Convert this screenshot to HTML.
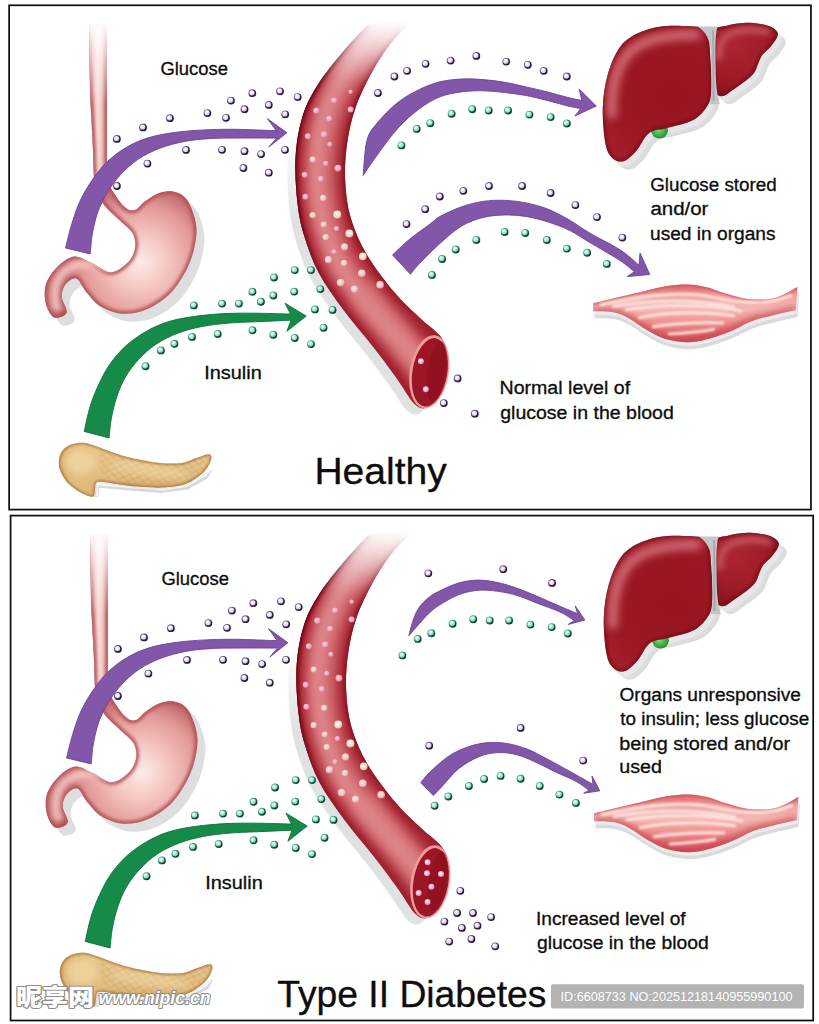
<!DOCTYPE html>
<html lang="en">
<head>
<meta charset="utf-8">
<title>Healthy vs Type II Diabetes</title>
<style>
html,body{margin:0;padding:0;background:#fff;}
body{width:819px;height:1024px;overflow:hidden;font-family:"Liberation Sans","Noto Sans CJK SC",sans-serif;}
svg{display:block;}
text{font-family:"Liberation Sans","Noto Sans CJK SC",sans-serif;fill:#0d0d0d;}
.lbl{font-size:19.2px;stroke:#0d0d0d;stroke-width:0.32px;}
.ttl{font-size:36px;stroke:#0d0d0d;stroke-width:0.3px;}
</style>
</head>
<body>
<svg width="819" height="1024" viewBox="0 0 819 1024">
<defs>
  <radialGradient id="gGlu" cx="0.38" cy="0.36" r="0.75">
    <stop offset="0" stop-color="#ffffff"/><stop offset="0.45" stop-color="#f1e4f5"/><stop offset="1" stop-color="#d3b4e0"/>
  </radialGradient>
  <radialGradient id="gIns" cx="0.38" cy="0.36" r="0.75">
    <stop offset="0" stop-color="#f4fffb"/><stop offset="0.4" stop-color="#b4f0dc"/><stop offset="1" stop-color="#62c9a3"/>
  </radialGradient>
  <radialGradient id="gOpen" cx="0.42" cy="0.4" r="0.6">
    <stop offset="0" stop-color="#fff"/><stop offset="0.6" stop-color="#efb6d2"/><stop offset="1" stop-color="#d98ab4"/>
  </radialGradient>
  <radialGradient id="gPartP" cx="0.4" cy="0.38" r="0.7">
    <stop offset="0" stop-color="#ffd3df"/><stop offset="0.6" stop-color="#f3a3b9"/><stop offset="1" stop-color="#d9728e"/>
  </radialGradient>
  <radialGradient id="gPartW" cx="0.4" cy="0.38" r="0.7">
    <stop offset="0" stop-color="#fbe9e4"/><stop offset="0.6" stop-color="#ecc6c2"/><stop offset="1" stop-color="#d89a9c"/>
  </radialGradient>
  <radialGradient id="gPartC" cx="0.4" cy="0.38" r="0.7">
    <stop offset="0" stop-color="#fff6ea"/><stop offset="0.6" stop-color="#f0dccb"/><stop offset="1" stop-color="#d9a99a"/>
  </radialGradient>
  <linearGradient id="gGluRing" x1="0.15" y1="0.15" x2="0.85" y2="0.85">
    <stop offset="0" stop-color="#7a6b93"/><stop offset="0.5" stop-color="#3d2e59"/><stop offset="1" stop-color="#1c1233"/>
  </linearGradient>
  <linearGradient id="gInsRing" x1="0.15" y1="0.15" x2="0.85" y2="0.85">
    <stop offset="0" stop-color="#5fae94"/><stop offset="0.5" stop-color="#1f6e55"/><stop offset="1" stop-color="#093426"/>
  </linearGradient>
  <g id="glu"><circle r="3.9" fill="url(#gGluRing)"/><circle cx="-0.35" cy="-0.4" r="2.6" fill="url(#gGlu)"/></g>
  <g id="ins"><circle r="3.95" fill="url(#gInsRing)"/><circle cx="-0.35" cy="-0.4" r="2.75" fill="url(#gIns)"/></g>
  <g id="opn"><circle r="3" fill="url(#gOpen)"/></g>

  <linearGradient id="gEso" x1="0" y1="0" x2="1" y2="0">
    <stop offset="0" stop-color="#d9928f"/><stop offset="0.5" stop-color="#f8dcd6"/><stop offset="1" stop-color="#dc9a96"/>
  </linearGradient>
  <radialGradient id="gStomach" gradientUnits="userSpaceOnUse" cx="140" cy="262" r="75">
    <stop offset="0" stop-color="#fdebe7"/><stop offset="0.35" stop-color="#f5c8c3"/><stop offset="0.75" stop-color="#e39a98"/><stop offset="1" stop-color="#c66d71"/>
  </radialGradient>
  <linearGradient id="gFadeTop" gradientUnits="userSpaceOnUse" x1="0" y1="22" x2="0" y2="105">
    <stop offset="0" stop-color="#fff" stop-opacity="1"/><stop offset="1" stop-color="#fff" stop-opacity="0"/>
  </linearGradient>
  <linearGradient id="gVesFade" gradientUnits="userSpaceOnUse" x1="395" y1="18" x2="345" y2="95">
    <stop offset="0" stop-color="#fff" stop-opacity="1"/><stop offset="0.15" stop-color="#fff" stop-opacity="0.85"/><stop offset="1" stop-color="#fff" stop-opacity="0"/>
  </linearGradient>
  <linearGradient id="gShadowFade" gradientUnits="userSpaceOnUse" x1="0" y1="125" x2="0" y2="215">
    <stop offset="0" stop-color="#e2e2e2" stop-opacity="0"/><stop offset="1" stop-color="#e0e1e1" stop-opacity="1"/>
  </linearGradient>
  <radialGradient id="gLiver" gradientUnits="userSpaceOnUse" cx="672" cy="95" r="105">
    <stop offset="0" stop-color="#95141f"/><stop offset="0.55" stop-color="#9b1925"/><stop offset="1" stop-color="#a8242f"/>
  </radialGradient>
  <radialGradient id="gLiverR" gradientUnits="userSpaceOnUse" cx="735" cy="45" r="50">
    <stop offset="0" stop-color="#ab2531"/><stop offset="0.6" stop-color="#a01c29"/><stop offset="1" stop-color="#8c1420"/>
  </radialGradient>
  <radialGradient id="gGall" cx="0.45" cy="0.45" r="0.6">
    <stop offset="0" stop-color="#7fe07a"/><stop offset="1" stop-color="#1c8a2c"/>
  </radialGradient>
  <linearGradient id="gMuscle" gradientUnits="userSpaceOnUse" x1="0" y1="284" x2="0" y2="344">
    <stop offset="0" stop-color="#dc5c63"/><stop offset="0.2" stop-color="#f1a19e"/><stop offset="0.42" stop-color="#f5b7b3"/><stop offset="0.62" stop-color="#ee9491"/><stop offset="0.82" stop-color="#e0696e"/><stop offset="1" stop-color="#cf4f59"/>
  </linearGradient>
  <linearGradient id="gPanc" gradientUnits="userSpaceOnUse" x1="0" y1="442" x2="0" y2="495">
    <stop offset="0" stop-color="#ebcb92"/><stop offset="0.6" stop-color="#e3bf84"/><stop offset="1" stop-color="#d3a869"/>
  </linearGradient>
  <linearGradient id="gPancHead" gradientUnits="userSpaceOnUse" x1="50" y1="0" x2="120" y2="0">
    <stop offset="0" stop-color="#c9985a" stop-opacity="0.75"/><stop offset="0.35" stop-color="#e3bf84" stop-opacity="0.8"/><stop offset="1" stop-color="#e3bf84" stop-opacity="0"/>
  </linearGradient>
  <pattern id="pHatch" width="10" height="7" patternUnits="userSpaceOnUse" patternTransform="rotate(12)">
    <path d="M0 0L10 7M10 0L0 7" stroke="#b98d52" stroke-width="0.7" fill="none" opacity="0.6"/>
  </pattern>
  <filter id="fBlur3" x="-20%" y="-20%" width="140%" height="140%"><feGaussianBlur stdDeviation="3"/></filter>
  <filter id="fBlur6" x="-20%" y="-20%" width="140%" height="140%"><feGaussianBlur stdDeviation="6"/></filter>
  <filter id="fBlur1" x="-20%" y="-20%" width="140%" height="140%"><feGaussianBlur stdDeviation="0.8"/></filter>
  <filter id="fBlur2" x="-20%" y="-20%" width="140%" height="140%"><feGaussianBlur stdDeviation="1.6"/></filter>
  <filter id="fBlur12" x="-20%" y="-50%" width="140%" height="200%"><feGaussianBlur stdDeviation="1.2"/></filter>
  <filter id="fBlur4" x="-30%" y="-30%" width="160%" height="160%"><feGaussianBlur stdDeviation="4"/></filter>
  <filter id="fBlur05" x="-20%" y="-20%" width="140%" height="140%"><feGaussianBlur stdDeviation="0.45"/></filter>
  <linearGradient id="gVesMask" gradientUnits="userSpaceOnUse" x1="385" y1="19" x2="372" y2="98">
    <stop offset="0" stop-color="#000"/><stop offset="0.1" stop-color="#141414"/><stop offset="0.3" stop-color="#4a4a4a"/><stop offset="0.6" stop-color="#a8a8a8"/><stop offset="0.85" stop-color="#ececec"/><stop offset="1" stop-color="#fff"/>
  </linearGradient>
  <mask id="mVessel" maskUnits="userSpaceOnUse" x="280" y="0" width="190" height="430">
    <rect x="280" y="0" width="190" height="430" fill="#fff"/>
    <rect x="300" y="0" width="150" height="110" fill="url(#gVesMask)"/>
  </mask>
  <linearGradient id="gVEdgeO" gradientUnits="userSpaceOnUse" x1="0" y1="220" x2="0" y2="350">
    <stop offset="0" stop-color="#7a0e1c" stop-opacity="1"/><stop offset="1" stop-color="#8e1a28" stop-opacity="0.3"/>
  </linearGradient>
  <linearGradient id="gVEdgeO2" gradientUnits="userSpaceOnUse" x1="0" y1="200" x2="0" y2="320">
    <stop offset="0" stop-color="#5d0813" stop-opacity="0.8"/><stop offset="1" stop-color="#8e1a28" stop-opacity="0"/>
  </linearGradient>
  <linearGradient id="gVEdgeI" gradientUnits="userSpaceOnUse" x1="0" y1="220" x2="0" y2="340">
    <stop offset="0" stop-color="#8a1422" stop-opacity="1"/><stop offset="1" stop-color="#951c2a" stop-opacity="0.55"/>
  </linearGradient>
  <clipPath id="cVessel"><path d="M367.7 24.7C363.6 29.2 351.4 41.7 343.3 51.5C335.2 61.3 325.5 72.7 318.8 83.3C312.1 93.9 306.9 102.8 303 115C299.1 127.2 296.5 141.8 295.6 156.5C294.7 171.2 296 189.7 297.5 203C299 216.3 300.8 224.9 304.4 236.6C308 248.3 312.5 261.1 319 273.3C325.5 285.5 334.5 297.8 343.5 310C352.5 322.2 364.2 335.5 372.8 346.5C381.4 357.5 388.7 367.2 394.8 375.8C400.9 384.4 407 394.1 409.4 397.8C416 408 424 412 430 405C444 392 452 362 446 346.5C444.8 344.5 443.2 339.2 438.7 334.3C434.2 329.4 426.5 324.1 419.2 317.2C411.9 310.3 403.6 303.3 394.8 292.8C386 282.3 373.9 266.7 366.5 254.2C359.1 241.7 354.2 229.8 350.6 217.6C347.1 205.4 345.8 193.2 345.2 181C344.6 168.8 345.3 156.5 347 144.3C348.7 132.1 351.2 119.9 355.5 107.7C359.8 95.5 366.5 82 372.6 71C378.7 60 385.3 50 392 41.7C398.7 33.4 409.4 24.4 412.9 21Z"/></clipPath>
  <clipPath id="cStomach"><path d="M107 24L107 150C107.1 154.7 106.5 171.1 107.5 178C108.5 184.9 110 186.8 113 191.7C116 196.6 121.5 204.5 125.2 207.6C128.9 210.7 131.7 211 135 210C138.3 209 140.7 204.3 144.8 201.5C148.9 198.7 154.5 194.6 159.4 193C164.3 191.4 169.5 190.7 174 191.7C178.5 192.7 182.8 194.5 186.3 199C189.8 203.5 193.2 212.1 194.8 218.6C196.4 225.1 197 230.3 196 238C195 245.7 192.8 256 188.7 265C184.6 274 178.5 284.6 171.6 291.9C164.7 299.2 155.3 305.4 147.2 309C139.1 312.6 130.5 314.2 122.8 313.8C115.1 313.4 106.9 310.1 100.8 306.5C94.7 302.9 90.3 296.6 86.2 291.9C82.1 287.2 79.9 279.6 76.4 278.4C72.9 277.2 67.9 281.4 65.4 284.5C63 287.6 61.5 292.1 61.7 296.8C61.9 301.5 67.8 309.2 66.6 312.6C65.4 316.1 57.8 318.9 54.4 317.5C51 316.1 47.3 309.5 45.9 304C44.5 298.5 44.1 290.6 45.9 284.5C47.7 278.4 52.2 272.1 56.9 267.4C61.6 262.7 68.3 257.3 74 256.5C79.7 255.7 84.9 260 91 262.6C97.1 265.2 104.5 272.3 110.6 272.3C116.7 272.3 123.6 266.7 127.7 262.6C131.8 258.6 134.2 252.9 135 248C135.8 243.1 135 237.8 132.6 233.3C130.2 228.8 125.3 225.9 120.4 221C115.5 216.1 107.5 210 103.3 204C99.1 198 96.7 194 95 185C93.3 176 93.3 155.8 93 150L90 93L89 24Z"/></clipPath>
  <clipPath id="cLiverL"><path d="M702.8 27.4C696 26.2 677.1 25.2 666.9 25.9C656.6 26.6 649 28.5 641.3 31.8C633.6 35.1 626.4 38.9 620.8 45.9C615.2 52.9 610.9 63.8 607.9 74.1C604.9 84.3 603.2 95.9 602.8 107.4C602.4 118.9 603.9 135 605.4 143.3C606.9 151.6 608.8 154.4 611.8 157.4C614.8 160.4 619.2 162.4 623.3 161.3C627.4 160.2 631.9 155.7 636.2 151C640.5 146.3 643.9 136.8 649 133C654.1 129.2 659.6 130.1 666.9 128C674.2 125.9 685.8 124.1 692.6 120.3C699.4 116.5 704.7 110.5 707.9 104.9C711.1 99.3 711.3 96.3 711.6 86.9C711.9 77.5 710.3 57.5 709.7 48.5C709.1 39.5 708.9 36.6 707.8 33.1C706.6 29.6 709.6 28.6 702.8 27.4Z"/></clipPath>
  <clipPath id="cLiverR"><path d="M713.7 30.4C716.1 26.6 722.5 26.6 727.5 25.4C732.5 24.1 738.5 23.1 744 22.9C749.5 22.7 755.8 23.3 760.4 24C765 24.7 768.5 25.7 771.4 27.1C774.2 28.5 776.7 30.7 777.5 32.6C778.3 34.5 777.6 36.2 776.4 38.6C775.2 41 772.6 44.2 770.3 46.9C768 49.6 764.6 51.9 762.6 54.6C760.6 57.4 759.7 60.3 758.2 63.4C756.7 66.5 756.2 70.1 753.8 73.2C751.4 76.3 747.5 79.2 744 82C740.5 84.8 736.3 87.4 733 89.7C729.7 92 726.7 94.9 724.2 95.8C721.7 96.7 719.7 96.2 718.1 95.2C716.5 94.2 715.6 93.9 714.8 89.7C714 85.5 713.7 77 713.4 70C713.1 63 713 54.6 713 48C713 41.4 711.3 34.2 713.7 30.4Z"/></clipPath>
  <clipPath id="cMuscle"><path d="M593 303.2C596.1 302.4 604.3 300.5 611.9 298.7C619.5 296.9 629.8 294.6 638.8 292.5C647.8 290.4 657.5 287.7 665.6 286.3C673.7 284.9 680.5 284.3 687.2 284.4C693.9 284.5 699.7 285.6 706 287.1C712.3 288.6 718.1 291.4 724.8 293.3C731.5 295.2 739.1 297.7 746.3 298.7C753.5 299.7 761.5 299.9 767.8 299.2C774.1 298.5 779 296.4 783.9 294.4C788.8 292.4 795.1 288.3 797.4 287.1L796 310C792.2 310.9 780.6 313.4 773.2 315.3C765.8 317.2 758.9 318.5 751.7 321.2C744.5 323.9 737.8 328.4 730.2 331.5C722.6 334.6 713.2 337.7 706 339.5C698.8 341.3 693.9 342.3 687.2 342.2C680.5 342.1 672.3 341 665.6 339C658.9 337 652.6 333.4 646.8 330.1C641 326.8 636.1 322.3 630.7 319.4C625.3 316.5 620.9 314 614.6 312.6C608.3 311.2 596.6 311.5 593 311.3Z"/></clipPath>
  <clipPath id="cPanc"><path d="M59.2 458.6C59.8 455.3 61.1 452.2 63.2 449.8C65.3 447.4 68.7 445.5 72 444.3C75.3 443.1 79.3 442.5 83 442.7C86.7 442.9 89.2 443.8 94 445.4C98.8 446.9 104.9 449.8 111.5 452C118.1 454.2 125.4 456.8 133.5 458.6C141.6 460.4 151.8 462.3 159.9 463C168 463.7 176.1 463.7 181.9 463C187.8 462.3 190.6 460.1 195 458.6C199.4 457.1 205.4 454.4 208.2 454.2C210.9 454 211.5 455.5 211.5 457.5C211.5 459.5 209.8 463.6 208.2 466.3C206.5 469.1 205.2 471.1 201.6 474C197.9 476.9 192.5 481.5 186.3 483.8C180.1 486.1 172.4 487.1 164.3 487.6C156.2 488.1 146 487.2 137.9 486.6C129.8 486 122.6 484.7 115.9 483.9C109.2 483.1 101.5 481.1 98 481.8C94.5 482.5 95.9 485.7 95.2 488C94.5 490.3 94.8 494.1 94 495.5C93.2 496.9 92.9 497.1 90.7 496.6C88.5 496.1 84.7 494.9 80.8 492.6C76.9 490.3 71.1 486.5 67.6 482.7C64.1 478.9 61.3 473.6 59.9 469.6C58.5 465.6 58.7 461.9 59.2 458.6Z"/></clipPath>

  <!-- ================= shared artwork (top-panel coordinates) ================= -->
  <g id="shared">
    <!-- stomach shadow -->
    <path d="M107 24L107 150C107.1 154.7 106.5 171.1 107.5 178C108.5 184.9 110 186.8 113 191.7C116 196.6 121.5 204.5 125.2 207.6C128.9 210.7 131.7 211 135 210C138.3 209 140.7 204.3 144.8 201.5C148.9 198.7 154.5 194.6 159.4 193C164.3 191.4 169.5 190.7 174 191.7C178.5 192.7 182.8 194.5 186.3 199C189.8 203.5 193.2 212.1 194.8 218.6C196.4 225.1 197 230.3 196 238C195 245.7 192.8 256 188.7 265C184.6 274 178.5 284.6 171.6 291.9C164.7 299.2 155.3 305.4 147.2 309C139.1 312.6 130.5 314.2 122.8 313.8C115.1 313.4 106.9 310.1 100.8 306.5C94.7 302.9 90.3 296.6 86.2 291.9C82.1 287.2 79.9 279.6 76.4 278.4C72.9 277.2 67.9 281.4 65.4 284.5C63 287.6 61.5 292.1 61.7 296.8C61.9 301.5 67.8 309.2 66.6 312.6C65.4 316.1 57.8 318.9 54.4 317.5C51 316.1 47.3 309.5 45.9 304C44.5 298.5 44.1 290.6 45.9 284.5C47.7 278.4 52.2 272.1 56.9 267.4C61.6 262.7 68.3 257.3 74 256.5C79.7 255.7 84.9 260 91 262.6C97.1 265.2 104.5 272.3 110.6 272.3C116.7 272.3 123.6 266.7 127.7 262.6C131.8 258.6 134.2 252.9 135 248C135.8 243.1 135 237.8 132.6 233.3C130.2 228.8 125.3 225.9 120.4 221C115.5 216.1 107.5 210 103.3 204C99.1 198 96.7 194 95 185C93.3 176 93.3 155.8 93 150L90 93L89 24Z" transform="translate(8,8)" fill="#dedede"/>
    <rect x="80" y="20" width="60" height="185" fill="#fff"/>
    <!-- stomach + esophagus -->
    <path d="M107 24L107 150C107.1 154.7 106.5 171.1 107.5 178C108.5 184.9 110 186.8 113 191.7C116 196.6 121.5 204.5 125.2 207.6C128.9 210.7 131.7 211 135 210C138.3 209 140.7 204.3 144.8 201.5C148.9 198.7 154.5 194.6 159.4 193C164.3 191.4 169.5 190.7 174 191.7C178.5 192.7 182.8 194.5 186.3 199C189.8 203.5 193.2 212.1 194.8 218.6C196.4 225.1 197 230.3 196 238C195 245.7 192.8 256 188.7 265C184.6 274 178.5 284.6 171.6 291.9C164.7 299.2 155.3 305.4 147.2 309C139.1 312.6 130.5 314.2 122.8 313.8C115.1 313.4 106.9 310.1 100.8 306.5C94.7 302.9 90.3 296.6 86.2 291.9C82.1 287.2 79.9 279.6 76.4 278.4C72.9 277.2 67.9 281.4 65.4 284.5C63 287.6 61.5 292.1 61.7 296.8C61.9 301.5 67.8 309.2 66.6 312.6C65.4 316.1 57.8 318.9 54.4 317.5C51 316.1 47.3 309.5 45.9 304C44.5 298.5 44.1 290.6 45.9 284.5C47.7 278.4 52.2 272.1 56.9 267.4C61.6 262.7 68.3 257.3 74 256.5C79.7 255.7 84.9 260 91 262.6C97.1 265.2 104.5 272.3 110.6 272.3C116.7 272.3 123.6 266.7 127.7 262.6C131.8 258.6 134.2 252.9 135 248C135.8 243.1 135 237.8 132.6 233.3C130.2 228.8 125.3 225.9 120.4 221C115.5 216.1 107.5 210 103.3 204C99.1 198 96.7 194 95 185C93.3 176 93.3 155.8 93 150L90 93L89 24Z" fill="url(#gStomach)"/>
    <g clip-path="url(#cStomach)">
      <rect x="86" y="20" width="24" height="165" fill="url(#gEso)"/>
      <path d="M107 24L107 150C107.1 154.7 106.5 171.1 107.5 178C108.5 184.9 110 186.8 113 191.7C116 196.6 121.5 204.5 125.2 207.6C128.9 210.7 131.7 211 135 210C138.3 209 140.7 204.3 144.8 201.5C148.9 198.7 154.5 194.6 159.4 193C164.3 191.4 169.5 190.7 174 191.7C178.5 192.7 182.8 194.5 186.3 199C189.8 203.5 193.2 212.1 194.8 218.6C196.4 225.1 197 230.3 196 238C195 245.7 192.8 256 188.7 265C184.6 274 178.5 284.6 171.6 291.9C164.7 299.2 155.3 305.4 147.2 309C139.1 312.6 130.5 314.2 122.8 313.8C115.1 313.4 106.9 310.1 100.8 306.5C94.7 302.9 90.3 296.6 86.2 291.9C82.1 287.2 79.9 279.6 76.4 278.4C72.9 277.2 67.9 281.4 65.4 284.5C63 287.6 61.5 292.1 61.7 296.8C61.9 301.5 67.8 309.2 66.6 312.6C65.4 316.1 57.8 318.9 54.4 317.5C51 316.1 47.3 309.5 45.9 304C44.5 298.5 44.1 290.6 45.9 284.5C47.7 278.4 52.2 272.1 56.9 267.4C61.6 262.7 68.3 257.3 74 256.5C79.7 255.7 84.9 260 91 262.6C97.1 265.2 104.5 272.3 110.6 272.3C116.7 272.3 123.6 266.7 127.7 262.6C131.8 258.6 134.2 252.9 135 248C135.8 243.1 135 237.8 132.6 233.3C130.2 228.8 125.3 225.9 120.4 221C115.5 216.1 107.5 210 103.3 204C99.1 198 96.7 194 95 185C93.3 176 93.3 155.8 93 150L90 93L89 24Z" fill="none" stroke="#b35158" stroke-width="6" filter="url(#fBlur2)" opacity="0.85"/>
      <ellipse cx="57" cy="314" rx="9" ry="5" fill="#ad3f49" opacity="0.7" filter="url(#fBlur2)"/>
      <path d="M112 268C95 262 78 262 66 270C54 279 52 296 58 312" fill="none" stroke="#f6cfc9" stroke-width="7" filter="url(#fBlur3)"/>
      <rect x="80" y="18" width="40" height="90" fill="url(#gFadeTop)"/>
    </g>
    <!-- pancreas -->
    <path d="M96.5 482L116 484.5L138 487.4L164.3 488.6L187 484.6L203 475L212.5 469L207.5 478.5L187 489.8L160.5 493L127 490.2L99.5 487.8L98 497L94 497Z" fill="#d6d8de"/>
    <path d="M97 482.5L116 485L138 487.9L164.3 489L187 485L203 475.5L211 470L206 476L187 486.8L164 490.6L127 487.8L98.6 485.6L97.6 496L96 496Z" fill="#f4f5f8"/>
    <path d="M59.2 458.6C59.8 455.3 61.1 452.2 63.2 449.8C65.3 447.4 68.7 445.5 72 444.3C75.3 443.1 79.3 442.5 83 442.7C86.7 442.9 89.2 443.8 94 445.4C98.8 446.9 104.9 449.8 111.5 452C118.1 454.2 125.4 456.8 133.5 458.6C141.6 460.4 151.8 462.3 159.9 463C168 463.7 176.1 463.7 181.9 463C187.8 462.3 190.6 460.1 195 458.6C199.4 457.1 205.4 454.4 208.2 454.2C210.9 454 211.5 455.5 211.5 457.5C211.5 459.5 209.8 463.6 208.2 466.3C206.5 469.1 205.2 471.1 201.6 474C197.9 476.9 192.5 481.5 186.3 483.8C180.1 486.1 172.4 487.1 164.3 487.6C156.2 488.1 146 487.2 137.9 486.6C129.8 486 122.6 484.7 115.9 483.9C109.2 483.1 101.5 481.1 98 481.8C94.5 482.5 95.9 485.7 95.2 488C94.5 490.3 94.8 494.1 94 495.5C93.2 496.9 92.9 497.1 90.7 496.6C88.5 496.1 84.7 494.9 80.8 492.6C76.9 490.3 71.1 486.5 67.6 482.7C64.1 478.9 61.3 473.6 59.9 469.6C58.5 465.6 58.7 461.9 59.2 458.6Z" fill="url(#gPanc)"/>
    <g clip-path="url(#cPanc)">
      <rect x="100" y="436" width="120" height="64" fill="url(#pHatch)"/>
      <rect x="50" y="436" width="70" height="64" fill="url(#gPancHead)"/>
      <ellipse cx="80" cy="462" rx="16" ry="12" fill="#f4dca8" opacity="0.6" filter="url(#fBlur3)"/>
      <ellipse cx="150" cy="470" rx="40" ry="7" fill="#f3dba9" opacity="0.5" filter="url(#fBlur3)" transform="rotate(8 150 470)"/>
      <path d="M59.2 458.6C59.8 455.3 61.1 452.2 63.2 449.8C65.3 447.4 68.7 445.5 72 444.3C75.3 443.1 79.3 442.5 83 442.7C86.7 442.9 89.2 443.8 94 445.4C98.8 446.9 104.9 449.8 111.5 452C118.1 454.2 125.4 456.8 133.5 458.6C141.6 460.4 151.8 462.3 159.9 463C168 463.7 176.1 463.7 181.9 463C187.8 462.3 190.6 460.1 195 458.6C199.4 457.1 205.4 454.4 208.2 454.2C210.9 454 211.5 455.5 211.5 457.5C211.5 459.5 209.8 463.6 208.2 466.3C206.5 469.1 205.2 471.1 201.6 474C197.9 476.9 192.5 481.5 186.3 483.8C180.1 486.1 172.4 487.1 164.3 487.6C156.2 488.1 146 487.2 137.9 486.6C129.8 486 122.6 484.7 115.9 483.9C109.2 483.1 101.5 481.1 98 481.8C94.5 482.5 95.9 485.7 95.2 488C94.5 490.3 94.8 494.1 94 495.5C93.2 496.9 92.9 497.1 90.7 496.6C88.5 496.1 84.7 494.9 80.8 492.6C76.9 490.3 71.1 486.5 67.6 482.7C64.1 478.9 61.3 473.6 59.9 469.6C58.5 465.6 58.7 461.9 59.2 458.6Z" fill="none" stroke="#a8763c" stroke-width="3" filter="url(#fBlur1)" opacity="0.85"/>
    </g>
    <!-- vessel shadow -->
    <path d="M367.7 24.7C363.6 29.2 351.4 41.7 343.3 51.5C335.2 61.3 325.5 72.7 318.8 83.3C312.1 93.9 306.9 102.8 303 115C299.1 127.2 296.5 141.8 295.6 156.5C294.7 171.2 296 189.7 297.5 203C299 216.3 300.8 224.9 304.4 236.6C308 248.3 312.5 261.1 319 273.3C325.5 285.5 334.5 297.8 343.5 310C352.5 322.2 364.2 335.5 372.8 346.5C381.4 357.5 388.7 367.2 394.8 375.8C400.9 384.4 407 394.1 409.4 397.8C416 408 424 412 430 405C444 392 452 362 446 346.5C444.8 344.5 443.2 339.2 438.7 334.3C434.2 329.4 426.5 324.1 419.2 317.2C411.9 310.3 403.6 303.3 394.8 292.8C386 282.3 373.9 266.7 366.5 254.2C359.1 241.7 354.2 229.8 350.6 217.6C347.1 205.4 345.8 193.2 345.2 181C344.6 168.8 345.3 156.5 347 144.3C348.7 132.1 351.2 119.9 355.5 107.7C359.8 95.5 366.5 82 372.6 71C378.7 60 385.3 50 392 41.7C398.7 33.4 409.4 24.4 412.9 21Z" transform="translate(-8,6)" fill="url(#gShadowFade)"/>
    <!-- vessel -->
    <g mask="url(#mVessel)">
      <path d="M367.7 24.7C363.6 29.2 351.4 41.7 343.3 51.5C335.2 61.3 325.5 72.7 318.8 83.3C312.1 93.9 306.9 102.8 303 115C299.1 127.2 296.5 141.8 295.6 156.5C294.7 171.2 296 189.7 297.5 203C299 216.3 300.8 224.9 304.4 236.6C308 248.3 312.5 261.1 319 273.3C325.5 285.5 334.5 297.8 343.5 310C352.5 322.2 364.2 335.5 372.8 346.5C381.4 357.5 388.7 367.2 394.8 375.8C400.9 384.4 407 394.1 409.4 397.8C416 408 424 412 430 405C444 392 452 362 446 346.5C444.8 344.5 443.2 339.2 438.7 334.3C434.2 329.4 426.5 324.1 419.2 317.2C411.9 310.3 403.6 303.3 394.8 292.8C386 282.3 373.9 266.7 366.5 254.2C359.1 241.7 354.2 229.8 350.6 217.6C347.1 205.4 345.8 193.2 345.2 181C344.6 168.8 345.3 156.5 347 144.3C348.7 132.1 351.2 119.9 355.5 107.7C359.8 95.5 366.5 82 372.6 71C378.7 60 385.3 50 392 41.7C398.7 33.4 409.4 24.4 412.9 21Z" fill="#a21f2e"/>
      <g clip-path="url(#cVessel)">
        <path d="M390 22C386.2 26.2 374.5 37.8 367 47C359.5 56.2 351.3 66.3 345 77C338.7 87.7 333 98.8 329 111C325 123.2 322.3 136.3 321 150C319.7 163.7 319.8 179.7 321 193C322.2 206.3 324.3 217.8 328 230C331.7 242.2 336.3 254.2 343 266C349.7 277.8 359.2 290 368 301C376.8 312 387.3 322.2 396 332C404.7 341.8 414.5 353.3 420 360C425.5 366.7 427.5 370 429 372" fill="none" stroke="#d0636b" stroke-width="32" filter="url(#fBlur6)"/>
        <path d="M390 22C386.2 26.2 374.5 37.8 367 47C359.5 56.2 351.3 66.3 345 77C338.7 87.7 333 98.8 329 111C325 123.2 322.3 136.3 321 150C319.7 163.7 319.8 179.7 321 193C322.2 206.3 324.3 217.8 328 230C331.7 242.2 336.3 254.2 343 266C349.7 277.8 359.2 290 368 301C376.8 312 387.3 322.2 396 332C404.7 341.8 414.5 353.3 420 360C425.5 366.7 427.5 370 429 372" fill="none" stroke="#e29396" stroke-width="11" filter="url(#fBlur6)" transform="translate(-3,0)"/>
        <path d="M367.7 24.7C363.6 29.2 351.4 41.7 343.3 51.5C335.2 61.3 325.5 72.7 318.8 83.3C312.1 93.9 306.9 102.8 303 115C299.1 127.2 296.5 141.8 295.6 156.5C294.7 171.2 296 189.7 297.5 203C299 216.3 300.8 224.9 304.4 236.6C308 248.3 312.5 261.1 319 273.3C325.5 285.5 334.5 297.8 343.5 310C352.5 322.2 364.2 335.5 372.8 346.5C381.4 357.5 388.7 367.2 394.8 375.8C400.9 384.4 407 394.1 409.4 397.8" fill="none" stroke="url(#gVEdgeO)" stroke-width="5" filter="url(#fBlur2)"/>
        <path d="M367.7 24.7C363.6 29.2 351.4 41.7 343.3 51.5C335.2 61.3 325.5 72.7 318.8 83.3C312.1 93.9 306.9 102.8 303 115C299.1 127.2 296.5 141.8 295.6 156.5C294.7 171.2 296 189.7 297.5 203C299 216.3 300.8 224.9 304.4 236.6C308 248.3 312.5 261.1 319 273.3C325.5 285.5 334.5 297.8 343.5 310C352.5 322.2 364.2 335.5 372.8 346.5C381.4 357.5 388.7 367.2 394.8 375.8C400.9 384.4 407 394.1 409.4 397.8" fill="none" stroke="url(#gVEdgeO2)" stroke-width="2"/>
        <path d="M412.9 21C409.4 24.4 398.7 33.4 392 41.7C385.3 50 378.7 60 372.6 71C366.5 82 359.8 95.5 355.5 107.7C351.2 119.9 348.7 132.1 347 144.3C345.3 156.5 344.6 168.8 345.2 181C345.8 193.2 347.1 205.4 350.6 217.6C354.2 229.8 359.1 241.7 366.5 254.2C373.9 266.7 386 282.3 394.8 292.8C403.6 303.3 411.9 310.3 419.2 317.2C426.5 324.1 434.2 329.4 438.7 334.3C443.2 339.2 444.8 344.5 446 346.5" fill="none" stroke="url(#gVEdgeI)" stroke-width="5" filter="url(#fBlur2)"/>
        <path d="M360 290C385 325 405 350 425 378" fill="none" stroke="#de8489" stroke-width="26" opacity="0.45" filter="url(#fBlur6)"/>
        <g filter="url(#fBlur05)">
<circle cx="350.6" cy="91.8" r="2.2" fill="url(#gPartP)"/>
<circle cx="334" cy="100.4" r="3" fill="url(#gPartP)"/>
<circle cx="350.6" cy="109.6" r="3" fill="url(#gPartP)"/>
<circle cx="316.4" cy="110.6" r="3.2" fill="url(#gPartP)"/>
<circle cx="329.1" cy="118.7" r="3" fill="url(#gPartP)"/>
<circle cx="307.9" cy="136.3" r="3" fill="url(#gPartP)"/>
<circle cx="324.2" cy="134.5" r="3.2" fill="url(#gPartP)"/>
<circle cx="329.8" cy="144.3" r="2.5" fill="url(#gPartP)"/>
<circle cx="312.7" cy="159.5" r="3" fill="url(#gPartW)"/>
<circle cx="325.7" cy="163.4" r="2.6" fill="url(#gPartP)"/>
<circle cx="337.9" cy="168.2" r="3.4" fill="url(#gPartP)"/>
<circle cx="304.7" cy="174.8" r="3" fill="url(#gPartP)"/>
<circle cx="320.8" cy="179" r="3" fill="url(#gPartP)"/>
<circle cx="305.4" cy="196.8" r="3" fill="url(#gPartP)"/>
<circle cx="323.2" cy="198" r="3.2" fill="url(#gPartW)"/>
<circle cx="312.7" cy="215.1" r="3.2" fill="url(#gPartW)"/>
<circle cx="337.2" cy="214.6" r="4" fill="url(#gPartC)"/>
<circle cx="323.7" cy="224.4" r="3" fill="url(#gPartW)"/>
<circle cx="336.4" cy="228.6" r="2.6" fill="url(#gPartP)"/>
<circle cx="349.4" cy="233.4" r="4" fill="url(#gPartC)"/>
<circle cx="325.7" cy="237.1" r="3.2" fill="url(#gPartW)"/>
<circle cx="344.5" cy="246.9" r="3.6" fill="url(#gPartW)"/>
<circle cx="334" cy="251.8" r="2.6" fill="url(#gPartP)"/>
<circle cx="362.8" cy="256.4" r="3.8" fill="url(#gPartC)"/>
<circle cx="328.4" cy="259.7" r="3.6" fill="url(#gPartW)"/>
<circle cx="344" cy="263" r="3.2" fill="url(#gPartW)"/>
<circle cx="361.8" cy="273.3" r="3.8" fill="url(#gPartW)"/>
<circle cx="340.6" cy="282.5" r="3.8" fill="url(#gPartW)"/>
<circle cx="354.5" cy="289.1" r="3.6" fill="url(#gPartW)"/>
<circle cx="380.1" cy="284.7" r="3.8" fill="url(#gPartW)"/>
        </g>
      </g>
    </g>
    <!-- vessel opening -->
    <g transform="translate(429.3 371.8) rotate(9.5)">
      <ellipse rx="19.5" ry="37" fill="#ef9a9c"/>
      <ellipse rx="17.4" ry="34.6" cx="0.6" cy="0.4" fill="#9b1626"/>
      <ellipse rx="9" ry="30" cx="7" cy="-2" fill="#8a0f1e" opacity="0.55"/>
    </g>
    <!-- liver -->
    <g transform="translate(8,8)" fill="#dcdcdc">
      <path d="M702.8 27.4C696 26.2 677.1 25.2 666.9 25.9C656.6 26.6 649 28.5 641.3 31.8C633.6 35.1 626.4 38.9 620.8 45.9C615.2 52.9 610.9 63.8 607.9 74.1C604.9 84.3 603.2 95.9 602.8 107.4C602.4 118.9 603.9 135 605.4 143.3C606.9 151.6 608.8 154.4 611.8 157.4C614.8 160.4 619.2 162.4 623.3 161.3C627.4 160.2 631.9 155.7 636.2 151C640.5 146.3 643.9 136.8 649 133C654.1 129.2 659.6 130.1 666.9 128C674.2 125.9 685.8 124.1 692.6 120.3C699.4 116.5 704.7 110.5 707.9 104.9C711.1 99.3 711.3 96.3 711.6 86.9C711.9 77.5 710.3 57.5 709.7 48.5C709.1 39.5 708.9 36.6 707.8 33.1C706.6 29.6 709.6 28.6 702.8 27.4Z"/><path d="M713.7 30.4C716.1 26.6 722.5 26.6 727.5 25.4C732.5 24.1 738.5 23.1 744 22.9C749.5 22.7 755.8 23.3 760.4 24C765 24.7 768.5 25.7 771.4 27.1C774.2 28.5 776.7 30.7 777.5 32.6C778.3 34.5 777.6 36.2 776.4 38.6C775.2 41 772.6 44.2 770.3 46.9C768 49.6 764.6 51.9 762.6 54.6C760.6 57.4 759.7 60.3 758.2 63.4C756.7 66.5 756.2 70.1 753.8 73.2C751.4 76.3 747.5 79.2 744 82C740.5 84.8 736.3 87.4 733 89.7C729.7 92 726.7 94.9 724.2 95.8C721.7 96.7 719.7 96.2 718.1 95.2C716.5 94.2 715.6 93.9 714.8 89.7C714 85.5 713.7 77 713.4 70C713.1 63 713 54.6 713 48C713 41.4 711.3 34.2 713.7 30.4Z"/>
    </g>
    <g transform="translate(4,5)" fill="#e6e6e6">
      <path d="M702.8 27.4C696 26.2 677.1 25.2 666.9 25.9C656.6 26.6 649 28.5 641.3 31.8C633.6 35.1 626.4 38.9 620.8 45.9C615.2 52.9 610.9 63.8 607.9 74.1C604.9 84.3 603.2 95.9 602.8 107.4C602.4 118.9 603.9 135 605.4 143.3C606.9 151.6 608.8 154.4 611.8 157.4C614.8 160.4 619.2 162.4 623.3 161.3C627.4 160.2 631.9 155.7 636.2 151C640.5 146.3 643.9 136.8 649 133C654.1 129.2 659.6 130.1 666.9 128C674.2 125.9 685.8 124.1 692.6 120.3C699.4 116.5 704.7 110.5 707.9 104.9C711.1 99.3 711.3 96.3 711.6 86.9C711.9 77.5 710.3 57.5 709.7 48.5C709.1 39.5 708.9 36.6 707.8 33.1C706.6 29.6 709.6 28.6 702.8 27.4Z"/><path d="M713.7 30.4C716.1 26.6 722.5 26.6 727.5 25.4C732.5 24.1 738.5 23.1 744 22.9C749.5 22.7 755.8 23.3 760.4 24C765 24.7 768.5 25.7 771.4 27.1C774.2 28.5 776.7 30.7 777.5 32.6C778.3 34.5 777.6 36.2 776.4 38.6C775.2 41 772.6 44.2 770.3 46.9C768 49.6 764.6 51.9 762.6 54.6C760.6 57.4 759.7 60.3 758.2 63.4C756.7 66.5 756.2 70.1 753.8 73.2C751.4 76.3 747.5 79.2 744 82C740.5 84.8 736.3 87.4 733 89.7C729.7 92 726.7 94.9 724.2 95.8C721.7 96.7 719.7 96.2 718.1 95.2C716.5 94.2 715.6 93.9 714.8 89.7C714 85.5 713.7 77 713.4 70C713.1 63 713 54.6 713 48C713 41.4 711.3 34.2 713.7 30.4Z"/>
    </g>
    <circle cx="659.5" cy="130.2" r="8.4" fill="url(#gGall)"/>
    <path d="M702.8 27.4C696 26.2 677.1 25.2 666.9 25.9C656.6 26.6 649 28.5 641.3 31.8C633.6 35.1 626.4 38.9 620.8 45.9C615.2 52.9 610.9 63.8 607.9 74.1C604.9 84.3 603.2 95.9 602.8 107.4C602.4 118.9 603.9 135 605.4 143.3C606.9 151.6 608.8 154.4 611.8 157.4C614.8 160.4 619.2 162.4 623.3 161.3C627.4 160.2 631.9 155.7 636.2 151C640.5 146.3 643.9 136.8 649 133C654.1 129.2 659.6 130.1 666.9 128C674.2 125.9 685.8 124.1 692.6 120.3C699.4 116.5 704.7 110.5 707.9 104.9C711.1 99.3 711.3 96.3 711.6 86.9C711.9 77.5 710.3 57.5 709.7 48.5C709.1 39.5 708.9 36.6 707.8 33.1C706.6 29.6 709.6 28.6 702.8 27.4Z" fill="url(#gLiver)"/>
    <path d="M713.7 30.4C716.1 26.6 722.5 26.6 727.5 25.4C732.5 24.1 738.5 23.1 744 22.9C749.5 22.7 755.8 23.3 760.4 24C765 24.7 768.5 25.7 771.4 27.1C774.2 28.5 776.7 30.7 777.5 32.6C778.3 34.5 777.6 36.2 776.4 38.6C775.2 41 772.6 44.2 770.3 46.9C768 49.6 764.6 51.9 762.6 54.6C760.6 57.4 759.7 60.3 758.2 63.4C756.7 66.5 756.2 70.1 753.8 73.2C751.4 76.3 747.5 79.2 744 82C740.5 84.8 736.3 87.4 733 89.7C729.7 92 726.7 94.9 724.2 95.8C721.7 96.7 719.7 96.2 718.1 95.2C716.5 94.2 715.6 93.9 714.8 89.7C714 85.5 713.7 77 713.4 70C713.1 63 713 54.6 713 48C713 41.4 711.3 34.2 713.7 30.4Z" fill="url(#gLiverR)"/>
    <g clip-path="url(#cLiverL)"><path d="M702.8 27.4C696 26.2 677.1 25.2 666.9 25.9C656.6 26.6 649 28.5 641.3 31.8C633.6 35.1 626.4 38.9 620.8 45.9C615.2 52.9 610.9 63.8 607.9 74.1C604.9 84.3 603.2 95.9 602.8 107.4C602.4 118.9 603.9 135 605.4 143.3C606.9 151.6 608.8 154.4 611.8 157.4C614.8 160.4 619.2 162.4 623.3 161.3C627.4 160.2 631.9 155.7 636.2 151C640.5 146.3 643.9 136.8 649 133C654.1 129.2 659.6 130.1 666.9 128C674.2 125.9 685.8 124.1 692.6 120.3C699.4 116.5 704.7 110.5 707.9 104.9C711.1 99.3 711.3 96.3 711.6 86.9C711.9 77.5 710.3 57.5 709.7 48.5C709.1 39.5 708.9 36.6 707.8 33.1C706.6 29.6 709.6 28.6 702.8 27.4Z" fill="none" stroke="#6f0f19" stroke-width="4" filter="url(#fBlur2)" opacity="0.8"/>
      <path d="M612 118C610 85 618 62 632 50C648 38 672 34 700 35" fill="none" stroke="#dd7c88" stroke-width="9" filter="url(#fBlur4)" opacity="0.9"/></g>
    <g clip-path="url(#cLiverR)"><path d="M713.7 30.4C716.1 26.6 722.5 26.6 727.5 25.4C732.5 24.1 738.5 23.1 744 22.9C749.5 22.7 755.8 23.3 760.4 24C765 24.7 768.5 25.7 771.4 27.1C774.2 28.5 776.7 30.7 777.5 32.6C778.3 34.5 777.6 36.2 776.4 38.6C775.2 41 772.6 44.2 770.3 46.9C768 49.6 764.6 51.9 762.6 54.6C760.6 57.4 759.7 60.3 758.2 63.4C756.7 66.5 756.2 70.1 753.8 73.2C751.4 76.3 747.5 79.2 744 82C740.5 84.8 736.3 87.4 733 89.7C729.7 92 726.7 94.9 724.2 95.8C721.7 96.7 719.7 96.2 718.1 95.2C716.5 94.2 715.6 93.9 714.8 89.7C714 85.5 713.7 77 713.4 70C713.1 63 713 54.6 713 48C713 41.4 711.3 34.2 713.7 30.4Z" fill="none" stroke="#6f0f19" stroke-width="4" filter="url(#fBlur2)" opacity="0.8"/>
      <path d="M719 60C718 44 722 36 735 32C748 29 760 29 770 33" fill="none" stroke="#d26a76" stroke-width="6" filter="url(#fBlur3)" opacity="0.8"/></g>
    <path d="M697.6 26.4L717.4 26.4C716 32 715.4 40 715.3 50L715.8 76C716.2 88 717.6 98 720 104.2L709.8 104.2C711.2 96 711.6 88 711.3 76L710.6 50C710 40 705.6 31 697.6 26.4Z" fill="#c4c5c6"/>
    <path d="M712.2 30L714 30L714.6 101L712.6 101Z" fill="#9fa0a1" opacity="0.75"/>
    <!-- muscle -->
    <path d="M593 303.2C596.1 302.4 604.3 300.5 611.9 298.7C619.5 296.9 629.8 294.6 638.8 292.5C647.8 290.4 657.5 287.7 665.6 286.3C673.7 284.9 680.5 284.3 687.2 284.4C693.9 284.5 699.7 285.6 706 287.1C712.3 288.6 718.1 291.4 724.8 293.3C731.5 295.2 739.1 297.7 746.3 298.7C753.5 299.7 761.5 299.9 767.8 299.2C774.1 298.5 779 296.4 783.9 294.4C788.8 292.4 795.1 288.3 797.4 287.1L796 310C792.2 310.9 780.6 313.4 773.2 315.3C765.8 317.2 758.9 318.5 751.7 321.2C744.5 323.9 737.8 328.4 730.2 331.5C722.6 334.6 713.2 337.7 706 339.5C698.8 341.3 693.9 342.3 687.2 342.2C680.5 342.1 672.3 341 665.6 339C658.9 337 652.6 333.4 646.8 330.1C641 326.8 636.1 322.3 630.7 319.4C625.3 316.5 620.9 314 614.6 312.6C608.3 311.2 596.6 311.5 593 311.3Z" transform="translate(1.5,7)" fill="#dadada"/>
    <path d="M593 303.2C596.1 302.4 604.3 300.5 611.9 298.7C619.5 296.9 629.8 294.6 638.8 292.5C647.8 290.4 657.5 287.7 665.6 286.3C673.7 284.9 680.5 284.3 687.2 284.4C693.9 284.5 699.7 285.6 706 287.1C712.3 288.6 718.1 291.4 724.8 293.3C731.5 295.2 739.1 297.7 746.3 298.7C753.5 299.7 761.5 299.9 767.8 299.2C774.1 298.5 779 296.4 783.9 294.4C788.8 292.4 795.1 288.3 797.4 287.1L796 310C792.2 310.9 780.6 313.4 773.2 315.3C765.8 317.2 758.9 318.5 751.7 321.2C744.5 323.9 737.8 328.4 730.2 331.5C722.6 334.6 713.2 337.7 706 339.5C698.8 341.3 693.9 342.3 687.2 342.2C680.5 342.1 672.3 341 665.6 339C658.9 337 652.6 333.4 646.8 330.1C641 326.8 636.1 322.3 630.7 319.4C625.3 316.5 620.9 314 614.6 312.6C608.3 311.2 596.6 311.5 593 311.3Z" transform="translate(0.8,3.5)" fill="#ececec"/>
    <path d="M593 303.2C596.1 302.4 604.3 300.5 611.9 298.7C619.5 296.9 629.8 294.6 638.8 292.5C647.8 290.4 657.5 287.7 665.6 286.3C673.7 284.9 680.5 284.3 687.2 284.4C693.9 284.5 699.7 285.6 706 287.1C712.3 288.6 718.1 291.4 724.8 293.3C731.5 295.2 739.1 297.7 746.3 298.7C753.5 299.7 761.5 299.9 767.8 299.2C774.1 298.5 779 296.4 783.9 294.4C788.8 292.4 795.1 288.3 797.4 287.1L796 310C792.2 310.9 780.6 313.4 773.2 315.3C765.8 317.2 758.9 318.5 751.7 321.2C744.5 323.9 737.8 328.4 730.2 331.5C722.6 334.6 713.2 337.7 706 339.5C698.8 341.3 693.9 342.3 687.2 342.2C680.5 342.1 672.3 341 665.6 339C658.9 337 652.6 333.4 646.8 330.1C641 326.8 636.1 322.3 630.7 319.4C625.3 316.5 620.9 314 614.6 312.6C608.3 311.2 596.6 311.5 593 311.3Z" fill="url(#gMuscle)"/>
    <g clip-path="url(#cMuscle)">
      <path d="M796 310C792.2 310.9 780.6 313.4 773.2 315.3C765.8 317.2 758.9 318.5 751.7 321.2C744.5 323.9 737.8 328.4 730.2 331.5C722.6 334.6 713.2 337.7 706 339.5C698.8 341.3 693.9 342.3 687.2 342.2C680.5 342.1 672.3 341 665.6 339C658.9 337 652.6 333.4 646.8 330.1C641 326.8 636.1 322.3 630.7 319.4C625.3 316.5 620.9 314 614.6 312.6C608.3 311.2 596.6 311.5 593 311.3" fill="none" stroke="#c4404c" stroke-width="8" filter="url(#fBlur3)" opacity="0.7"/>
      <path d="M593 303.2C596.1 302.4 604.3 300.5 611.9 298.7C619.5 296.9 629.8 294.6 638.8 292.5C647.8 290.4 657.5 287.7 665.6 286.3C673.7 284.9 680.5 284.3 687.2 284.4C693.9 284.5 699.7 285.6 706 287.1C712.3 288.6 718.1 291.4 724.8 293.3C731.5 295.2 739.1 297.7 746.3 298.7C753.5 299.7 761.5 299.9 767.8 299.2C774.1 298.5 779 296.4 783.9 294.4C788.8 292.4 795.1 288.3 797.4 287.1" fill="none" stroke="#cf5560" stroke-width="3" filter="url(#fBlur1)" opacity="0.8"/>
      <g fill="none" stroke="#fde6e1" stroke-width="3.2" opacity="0.9" filter="url(#fBlur12)">
        <path d="M600 305C640 296 680 290 712 297C740 304 770 305 792 295"/>
        <path d="M612 306.5C650 300 690 298 735 307"/>
        <path d="M625 310C655 305 700 303 742 311"/>
        <path d="M638 318C665 312 705 311 735 316"/>
        <path d="M652 327C675 323 705 322 724 323"/>
        <path d="M668 334C690 333 705 331 715 329"/>
      </g>
    </g>
    <!-- arrows -->
    <path d="M65.5 248C66.5 244.2 69.2 232.4 71.5 224.9C73.8 217.4 76.1 209.9 79.2 202.9C82.3 195.9 85.8 189.7 90.2 183.1C94.6 176.5 99.7 169.2 105.5 163.4C111.3 157.6 118.3 152.2 125.3 148C132.3 143.8 139.2 140.7 147.3 138.1C155.4 135.5 164.2 134 173.7 132.6C183.2 131.2 194.3 130.4 204.5 129.9C214.7 129.4 223.1 129.2 235 129.3C246.9 129.4 269.3 130.5 276.2 130.7L267.4 118.6L286.9 132.7L268.8 147L276.6 138.1C269.7 138.1 246.3 138 235 138.1C223.7 138.2 217.2 138.1 208.8 138.7C200.4 139.2 192.8 139.8 184.7 141.4C176.6 143 168.2 145.1 160.5 148C152.8 150.9 145.1 154.6 138.5 159C131.9 163.4 126 168.8 120.9 174.3C115.8 179.8 111.5 185.7 107.7 191.9C103.9 198.1 100.5 204.7 97.9 211.7C95.4 218.7 93.7 226.7 92.4 233.7C91.1 240.7 90.6 250.5 90.2 253.9Z" fill="#8256a9" stroke="#6c4397" stroke-width="0.9" stroke-linejoin="miter"/>
    <path d="M84.2 431.4C85.2 427.1 87.9 413.5 90.4 405.5C92.9 397.5 95.9 390.5 99.2 383.5C102.5 376.5 105.8 369.9 110.2 363.7C114.6 357.5 119.7 351.5 125.5 346.2C131.3 340.9 138.3 335.9 145.3 331.9C152.3 327.9 159.2 324.6 167.3 322C175.4 319.4 184.2 317.9 193.7 316.5C203.2 315.1 214.3 314.2 224.5 313.6C234.7 313.1 244 313.1 255 313.2C266 313.3 284.6 313.9 290.5 314L285 303.2L306.2 316.1L286.9 331.3L291 320.2C285 320.5 265.4 321.3 255 321.8C244.6 322.3 237.6 322.3 228.8 323.1C220.1 323.9 210.9 324.8 202.5 326.4C194.1 328 186 330.1 178.3 333C170.6 335.9 162.9 339.6 156.3 344C149.7 348.4 143.8 353.8 138.7 359.3C133.6 364.8 129.2 370.7 125.5 376.9C121.8 383.1 119.2 389.7 116.8 396.7C114.4 403.7 112.6 411.8 111.3 418.7C110 425.6 109.5 434.8 109.1 438Z" fill="#168a49" stroke="#0f713a" stroke-width="0.9"/>
    <!-- dots -->
<use href="#glu" x="207.4" y="113.1"/>
<use href="#glu" x="230.9" y="100.6"/>
<use href="#glu" x="226" y="117.8"/>
<use href="#glu" x="252.3" y="93.2"/>
<use href="#glu" x="244.5" y="109.2"/>
<use href="#glu" x="268.8" y="104.9"/>
<use href="#glu" x="280" y="91.3"/>
<use href="#glu" x="297.7" y="97.1"/>
<use href="#glu" x="285.2" y="114.3"/>
<use href="#glu" x="222" y="149.8"/>
<use href="#glu" x="244.5" y="151.2"/>
<use href="#glu" x="261.1" y="154.1"/>
<use href="#glu" x="285" y="149.8"/>
<use href="#glu" x="243.4" y="168"/>
<use href="#glu" x="268.8" y="172.7"/>
<use href="#glu" x="116.9" y="138.9"/>
<use href="#glu" x="143" y="127.4"/>
<use href="#glu" x="169.9" y="118.2"/>
<use href="#glu" x="186" y="149.9"/>
<use href="#glu" x="147.4" y="163.6"/>
<use href="#glu" x="116.9" y="186"/>
<use href="#ins" x="193.8" y="305.4"/>
<use href="#ins" x="222" y="303.6"/>
<use href="#ins" x="238.9" y="303.6"/>
<use href="#ins" x="260.9" y="301.7"/>
<use href="#ins" x="252.5" y="291.8"/>
<use href="#ins" x="273.3" y="295.5"/>
<use href="#ins" x="274" y="277.5"/>
<use href="#ins" x="294.7" y="270.1"/>
<use href="#ins" x="311" y="270.1"/>
<use href="#ins" x="294.2" y="291.6"/>
<use href="#ins" x="320.3" y="289.1"/>
<use href="#ins" x="314.9" y="309.4"/>
<use href="#ins" x="332.5" y="309.9"/>
<use href="#ins" x="323.5" y="327.7"/>
<use href="#ins" x="294.7" y="338"/>
<use href="#ins" x="311" y="344.1"/>
<use href="#ins" x="160.9" y="350.4"/>
<use href="#ins" x="174.4" y="343.8"/>
<use href="#ins" x="192" y="336.9"/>
<use href="#ins" x="217.7" y="334"/>
<use href="#ins" x="252.5" y="330.3"/>
<use href="#ins" x="273.3" y="334.7"/>
<use href="#ins" x="145.5" y="366.2"/>
<use href="#ins" x="401.4" y="145.4"/>
<use href="#ins" x="416.7" y="128.9"/>
<use href="#ins" x="430.3" y="123.2"/>
<use href="#ins" x="451.6" y="113.7"/>
<use href="#ins" x="472.2" y="109.2"/>
<use href="#ins" x="488.7" y="110.5"/>
<use href="#ins" x="508.1" y="110.5"/>
<use href="#ins" x="529.4" y="114.6"/>
<use href="#ins" x="550.6" y="117.1"/>
<use href="#ins" x="566.8" y="123.5"/>
    <text class="lbl" x="160.4" y="75" textLength="67.6" lengthAdjust="spacingAndGlyphs">Glucose</text>
    <text class="lbl" x="204.2" y="378.7" textLength="57.6" lengthAdjust="spacingAndGlyphs">Insulin</text>
  </g>
</defs>

<rect width="819" height="1024" fill="#ffffff"/>

<!-- ================= TOP PANEL ================= -->
<use href="#shared"/>
<path d="M363.2 175.4C363.8 169.7 364.6 149.6 366.8 141C369 132.4 371.3 130.2 376.5 123.8C381.7 117.3 390.8 108 398 102.3C405.2 96.6 412.5 92.8 419.5 89.4C426.5 86 433 83.5 440 81.8C447 80.1 454.3 79.4 461.5 79C468.7 78.6 475.9 79.1 483 79.6C490.1 80.1 497.2 81 504.4 82.2C511.6 83.4 518.8 85.3 526 86.9C533.2 88.5 540.2 90.1 547.4 91.9C554.5 93.7 563.1 96.3 568.9 97.7C574.6 99.1 579.7 100 581.9 100.5L579.2 89L596.3 106L574.9 116L580.8 108.6C578.8 108.2 574.5 107.6 568.9 106.3C563.3 105 554.5 102.3 547.4 100.5C540.2 98.7 533.2 96.8 526 95.5C518.8 94.2 511.6 93.3 504.4 92.5C497.2 91.7 490.1 90.9 483 90.8C475.9 90.7 468.7 90.9 461.5 91.9C454.3 92.9 447 94 440 96.8C433 99.6 426.5 103.5 419.5 108.7C412.5 113.9 405.2 120.2 398 128.1C390.8 136 382.3 148.1 376.5 156C370.7 163.9 365.4 172.2 363.2 175.4Z" fill="#8256a9" stroke="#6c4397" stroke-width="0.9" stroke-linejoin="miter"/>
<path d="M392.6 254.9C395.3 252.4 402.5 245.1 408.8 239.9C415.1 234.7 425.1 227.7 430.3 223.8C435.5 219.9 434.8 219.3 440 216.5C445.2 213.7 454.3 209.3 461.5 206.8C468.7 204.3 475.9 202.5 483 201.4C490.1 200.3 497.2 200.1 504.4 200.3C511.6 200.6 518.8 201.5 526 202.9C533.2 204.3 540.2 206.1 547.4 208.9C554.5 211.7 561.8 215.6 568.9 219.7C576 223.8 581.5 228.2 590 233.2C598.5 238.2 611.8 244.5 620 249.8C628.2 255.1 635.8 262.6 639 265.1L640 253L649.8 274.5L627.1 276.6L634.4 271.8C632 269.9 627.4 265.4 620 260.5C612.6 255.6 598.5 247.7 590 242.6C581.5 237.5 576 233.5 568.9 230C561.8 226.5 554.5 224.1 547.4 221.8C540.2 219.6 533.2 217.6 526 216.5C518.8 215.4 511.6 214.8 504.4 215C497.2 215.2 490.1 215.7 483 217.5C475.9 219.3 468.5 221.9 461.5 226.1C454.5 230.3 448 236.3 441 242.5C434 248.7 424.6 258.2 419.5 263.5C414.4 268.8 412 272.5 410.5 274.3Z" fill="#8256a9" stroke="#6c4397" stroke-width="0.9" stroke-linejoin="miter"/>
<use href="#ins" x="431.9" y="274.9"/>
<use href="#ins" x="442.1" y="259"/>
<use href="#ins" x="455.7" y="249.5"/>
<use href="#ins" x="476.3" y="240"/>
<use href="#ins" x="504.6" y="232"/>
<use href="#ins" x="525.2" y="233"/>
<use href="#ins" x="546.8" y="240"/>
<use href="#ins" x="566.8" y="248.6"/>
<use href="#ins" x="587.1" y="252.7"/>
<use href="#ins" x="606.8" y="263.9"/>
<use href="#glu" x="377.9" y="93"/>
<use href="#glu" x="394.4" y="76.5"/>
<use href="#glu" x="407.1" y="70.8"/>
<use href="#glu" x="425.6" y="63.8"/>
<use href="#glu" x="450.6" y="60.6"/>
<use href="#glu" x="476.3" y="55.9"/>
<use href="#glu" x="506.2" y="61.6"/>
<use href="#glu" x="527.8" y="64.8"/>
<use href="#glu" x="543.7" y="70.8"/>
<use href="#glu" x="566.8" y="76.5"/>
<use href="#glu" x="406.5" y="224.1"/>
<use href="#glu" x="425.2" y="209.2"/>
<use href="#glu" x="439.8" y="196.5"/>
<use href="#glu" x="463.3" y="190.8"/>
<use href="#glu" x="489" y="186"/>
<use href="#glu" x="522.1" y="186"/>
<use href="#glu" x="550.6" y="193"/>
<use href="#glu" x="575.4" y="205.1"/>
<use href="#glu" x="597" y="217.1"/>
<use href="#glu" x="622.3" y="237.6"/>
<use href="#glu" x="457.6" y="378.4"/>
<use href="#glu" x="443.8" y="403.1"/>
<use href="#glu" x="474.8" y="413.7"/>
<use href="#opn" x="420.9" y="361.2"/>
<use href="#opn" x="425.8" y="389.3"/>
<text class="lbl" x="650.2" y="191" textLength="126.6" lengthAdjust="spacingAndGlyphs">Glucose stored</text>
<text class="lbl" x="650.4" y="215.4" textLength="58" lengthAdjust="spacingAndGlyphs">and/or</text>
<text class="lbl" x="650" y="240.2" textLength="125.5" lengthAdjust="spacingAndGlyphs">used in organs</text>
<text class="lbl" x="499.5" y="394.4" textLength="130.6" lengthAdjust="spacingAndGlyphs">Normal level of</text>
<text class="lbl" x="500.2" y="418.8" textLength="173.6" lengthAdjust="spacingAndGlyphs">glucose in the blood</text>
<text class="ttl" x="314.4" y="484" textLength="132.5" lengthAdjust="spacingAndGlyphs">Healthy</text>
<rect x="9.15" y="5.3" width="801.8" height="504.3" fill="none" stroke="#0a0a0a" stroke-width="1.7"/>

<!-- ================= BOTTOM PANEL ================= -->
<use href="#shared" transform="translate(1.0 510.0)"/>
<path d="M408.8 635.8C409.6 632.9 411.9 623.4 413.7 618.6C415.5 613.8 416.9 610.5 419.5 606.9C422.1 603.3 426 599.7 429.3 597.1C432.6 594.5 434.2 593.6 439.1 591.3C444 588.9 452.1 584.9 458.6 583C465.1 581.1 471.6 580.2 478.1 580.1C484.6 580 491.2 581.1 497.7 582.5C504.2 583.9 510.7 586 517.2 588.3C523.7 590.6 529.6 593.1 536.7 596.1C543.8 599.1 553.2 603.4 560 606.3C566.8 609.2 574.7 612.5 577.6 613.7L575.2 605.9L584.9 620L568.3 624.4L574.2 620.5C571.8 619.1 566.2 614.9 560 612C553.8 609.1 543.8 605.8 536.7 603C529.6 600.2 523.7 597.5 517.2 595.5C510.7 593.5 504.2 592.2 497.7 591.3C491.2 590.4 484.6 589.7 478.1 590.3C471.6 590.9 465.1 592.3 458.6 594.8C452.1 597.3 444 602.2 439.1 605.3C434.2 608.3 432.6 610.1 429.3 613.1C426 616.1 422.9 619.7 419.5 623.5C416.1 627.3 410.6 633.8 408.8 635.8Z" fill="#8256a9" stroke="#6c4397" stroke-width="0.9" stroke-linejoin="miter"/>
<path d="M420.7 782.7C422.2 781 424.8 777 429.5 772.5C434.2 768 442.6 760.2 449.1 755.9C455.6 751.6 462.1 748.9 468.6 746.7C475.1 744.5 481.6 743.1 488.1 742.6C494.6 742.1 501.2 742.5 507.7 743.6C514.2 744.7 520.7 746.6 527.2 749.1C533.7 751.6 539.6 755.1 546.7 758.8C553.8 762.5 562.3 767.2 570 771.5C577.7 775.8 589.2 782.2 593 784.4L592 776.1L599.8 790.8L583.7 793.2L589.1 790.3C586.8 788.7 580.4 783.8 575 780.8C569.6 777.8 562.9 775.5 556.5 772.5C550.1 769.5 543.4 765.6 536.9 762.7C530.4 759.8 523.9 756.6 517.4 754.9C510.9 753.2 504.4 752.3 497.9 752.6C491.4 752.9 484.9 754.2 478.4 756.9C471.9 759.6 464.7 763.9 458.8 768.6C452.9 773.3 447.4 780.7 443.2 785.2C439 789.7 435 793.8 433.4 795.5Z" fill="#8256a9" stroke="#6c4397" stroke-width="0.9" stroke-linejoin="miter"/>
<use href="#ins" x="434.6" y="805.7"/>
<use href="#ins" x="448.3" y="796.5"/>
<use href="#ins" x="468.9" y="786"/>
<use href="#ins" x="484.1" y="779"/>
<use href="#ins" x="500.6" y="775.9"/>
<use href="#ins" x="520.6" y="778.7"/>
<use href="#ins" x="539.7" y="786"/>
<use href="#ins" x="559.4" y="794.6"/>
<use href="#ins" x="575.9" y="802.9"/>
<use href="#glu" x="428.3" y="573.3"/>
<use href="#glu" x="503.2" y="569.2"/>
<use href="#glu" x="552.1" y="582.9"/>
<use href="#glu" x="429.2" y="745.7"/>
<use href="#glu" x="520.6" y="727.9"/>
<use href="#glu" x="583.2" y="760.6"/>
<use href="#glu" x="460.3" y="890.8"/>
<use href="#glu" x="444.4" y="921.6"/>
<use href="#glu" x="457.1" y="913"/>
<use href="#glu" x="473" y="913"/>
<use href="#glu" x="491.1" y="917.1"/>
<use href="#glu" x="461.9" y="927.9"/>
<use href="#glu" x="477.5" y="925.7"/>
<use href="#glu" x="449.2" y="941.6"/>
<use href="#glu" x="471.4" y="939"/>
<use href="#glu" x="495.2" y="946.3"/>
<use href="#opn" x="427.6" y="862.2"/>
<use href="#opn" x="427" y="873.3"/>
<use href="#opn" x="441" y="874"/>
<use href="#opn" x="431.4" y="886.7"/>
<use href="#opn" x="418.7" y="893"/>
<use href="#opn" x="427.6" y="901.9"/>
<text class="lbl" x="619.5" y="700.8" textLength="181.3" lengthAdjust="spacingAndGlyphs">Organs unresponsive</text>
<text class="lbl" x="620.2" y="725" textLength="189" lengthAdjust="spacingAndGlyphs">to insulin; less glucose</text>
<text class="lbl" x="619.2" y="749.6" textLength="171" lengthAdjust="spacingAndGlyphs">being stored and/or</text>
<text class="lbl" x="619.2" y="773.4" textLength="42.7" lengthAdjust="spacingAndGlyphs">used</text>
<text class="lbl" x="536" y="924.9" textLength="149.6" lengthAdjust="spacingAndGlyphs">Increased level of</text>
<text class="lbl" x="536.9" y="948.8" textLength="171.8" lengthAdjust="spacingAndGlyphs">glucose in the blood</text>
<text class="ttl" x="277.2" y="1006.5" textLength="269.3" lengthAdjust="spacingAndGlyphs">Type II Diabetes</text>
<rect x="10.6" y="515.6" width="802.6" height="504.9" fill="none" stroke="#0a0a0a" stroke-width="1.7"/>

<!-- watermark + id tag -->
<g stroke="#8c8c8c" stroke-linejoin="round" style="paint-order:stroke">
  <text x="16" y="1005.2" font-size="23" font-weight="900" stroke-width="2.2" textLength="78" lengthAdjust="spacingAndGlyphs" style="fill:#fff;font-family:'Liberation Sans','Noto Sans CJK SC',sans-serif">昵享网</text>
  <text x="98.5" y="1004.2" font-size="17.5" font-weight="bold" font-style="italic" stroke-width="2" textLength="112" lengthAdjust="spacingAndGlyphs" style="fill:#fff">www.nipic.cn</text>
</g>
<rect x="551" y="984.3" width="253" height="24.2" rx="2" fill="#b3b3b3"/>
<text x="560.5" y="1001.3" font-size="13" textLength="232" lengthAdjust="spacingAndGlyphs" style="fill:#fff">ID:6608733 NO:20251218140955990100</text>
</svg>
</body>
</html>
